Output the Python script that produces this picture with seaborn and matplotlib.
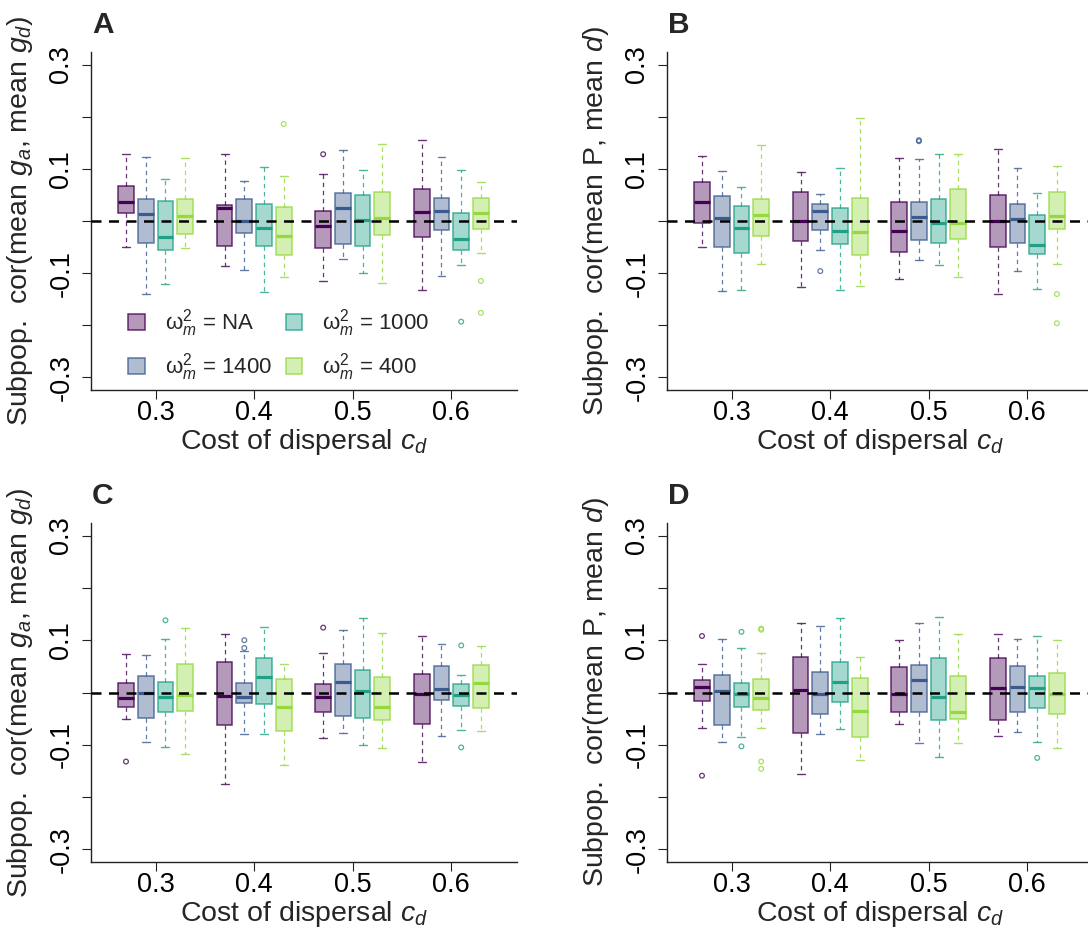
import numpy as np
import pandas as pd
import matplotlib
matplotlib.use("Agg")
import matplotlib.pyplot as plt
from matplotlib.colors import to_rgba
from matplotlib.patches import Patch
import seaborn as sns

# ---------------------------------------------------------------------------
# Data: five-number summaries per box, rows = cost of dispersal, cols = omega
# ---------------------------------------------------------------------------
costs = ["0.3", "0.4", "0.5", "0.6"]
omegas = ["NA", "1400", "1000", "400"]
omega_colors = ["#440154", "#3B5B8E", "#1FA187", "#95D840"]

# Panel A: cor(mean g_a, mean g_d)
A_lo = [[-0.049, -0.139, -0.121, -0.052], [-0.087, -0.094, -0.137, -0.108],
        [-0.115, -0.072, -0.099, -0.118], [-0.132, -0.106, -0.085, -0.061]]
A_q1 = [[0.015, -0.043, -0.056, -0.025], [-0.047, -0.023, -0.047, -0.065],
        [-0.052, -0.045, -0.048, -0.027], [-0.031, -0.018, -0.056, -0.015]]
A_med = [[0.036, 0.014, -0.031, 0.010], [0.024, 0.000, -0.013, -0.029],
         [-0.009, 0.024, 0.002, 0.006], [0.018, 0.020, -0.034, 0.015]]
A_q3 = [[0.068, 0.043, 0.038, 0.043], [0.030, 0.043, 0.032, 0.027],
        [0.019, 0.054, 0.049, 0.055], [0.061, 0.045, 0.015, 0.045]]
A_hi = [[0.128, 0.122, 0.080, 0.120], [0.128, 0.076, 0.104, 0.086],
        [0.090, 0.136, 0.097, 0.148], [0.155, 0.122, 0.097, 0.074]]
A_outliers = [("0.4", "400", 0.186), ("0.5", "NA", 0.128),
              ("0.6", "1000", -0.193), ("0.6", "400", -0.115), ("0.6", "400", -0.176)]

# Panel B: cor(mean P, mean d)
B_lo = [[-0.050, -0.135, -0.132, -0.082], [-0.126, -0.056, -0.132, -0.124],
        [-0.111, -0.075, -0.085, -0.108], [-0.139, -0.096, -0.131, -0.082]]
B_q1 = [[-0.003, -0.049, -0.061, -0.029], [-0.038, -0.018, -0.045, -0.065],
        [-0.059, -0.036, -0.043, -0.034], [-0.049, -0.043, -0.063, -0.015]]
B_med = [[0.036, 0.006, -0.014, 0.012], [0.000, 0.020, -0.020, -0.022],
         [-0.020, 0.008, -0.003, -0.003], [0.000, 0.003, -0.046, 0.010]]
B_q3 = [[0.074, 0.047, 0.029, 0.043], [0.055, 0.032, 0.025, 0.045],
        [0.036, 0.036, 0.043, 0.061], [0.049, 0.032, 0.011, 0.055]]
B_hi = [[0.124, 0.096, 0.066, 0.146], [0.094, 0.052, 0.101, 0.198],
        [0.120, 0.118, 0.128, 0.128], [0.138, 0.102, 0.054, 0.106]]
B_outliers = [("0.4", "1400", -0.096), ("0.5", "1400", 0.155), ("0.5", "1400", 0.153),
              ("0.6", "400", -0.140), ("0.6", "400", -0.196)]

# Panel C: cor(mean g_a, mean g_d)
C_lo = [[-0.050, -0.094, -0.105, -0.118], [-0.175, -0.080, -0.080, -0.139],
        [-0.087, -0.078, -0.101, -0.107], [-0.132, -0.083, -0.072, -0.074]]
C_q1 = [[-0.027, -0.049, -0.038, -0.035], [-0.063, -0.020, -0.022, -0.073],
        [-0.038, -0.045, -0.049, -0.053], [-0.061, -0.015, -0.025, -0.029]]
C_med = [[-0.010, 0.000, -0.008, -0.004], [-0.006, -0.008, 0.030, -0.027],
         [-0.008, 0.021, 0.002, -0.027], [-0.003, 0.006, -0.005, 0.019]]
C_q3 = [[0.019, 0.032, 0.021, 0.054], [0.059, 0.019, 0.066, 0.025],
        [0.017, 0.055, 0.043, 0.030], [0.036, 0.050, 0.017, 0.052]]
C_hi = [[0.074, 0.071, 0.102, 0.124], [0.112, 0.079, 0.125, 0.055],
        [0.076, 0.120, 0.143, 0.114], [0.108, 0.092, 0.034, 0.088]]
C_outliers = [("0.3", "NA", -0.132), ("0.3", "1000", 0.138), ("0.4", "1400", 0.100),
              ("0.4", "1400", 0.085), ("0.5", "NA", 0.124), ("0.6", "1000", 0.090),
              ("0.6", "1000", -0.105)]

# Panel D: cor(mean P, mean d)
D_lo = [[-0.067, -0.094, -0.085, -0.067], [-0.155, -0.080, -0.069, -0.129],
        [-0.061, -0.097, -0.123, -0.097], [-0.083, -0.075, -0.094, -0.107]]
D_q1 = [[-0.017, -0.063, -0.027, -0.033], [-0.078, -0.042, -0.018, -0.085],
        [-0.037, -0.037, -0.053, -0.051], [-0.053, -0.037, -0.029, -0.042]]
D_med = [[0.010, 0.002, -0.003, -0.010], [0.005, -0.002, 0.021, -0.036],
         [-0.003, 0.024, -0.008, -0.038], [0.008, 0.011, 0.008, -0.003]]
D_q3 = [[0.024, 0.034, 0.019, 0.025], [0.068, 0.039, 0.059, 0.027],
        [0.048, 0.052, 0.066, 0.032], [0.066, 0.050, 0.032, 0.038]]
D_hi = [[0.054, 0.102, 0.086, 0.076], [0.132, 0.128, 0.142, 0.068],
        [0.100, 0.132, 0.144, 0.112], [0.112, 0.102, 0.108, 0.100]]
D_outliers = [("0.3", "NA", 0.108), ("0.3", "NA", -0.159), ("0.3", "1000", 0.116),
              ("0.3", "1000", -0.103), ("0.3", "400", 0.122), ("0.3", "400", 0.120),
              ("0.3", "400", -0.132), ("0.3", "400", -0.146), ("0.6", "1000", -0.125)]

ylabel_g = r"Subpop.  cor(mean $g_a$, mean $g_d$)"
ylabel_p = r"Subpop.  cor(mean P, mean $d$)"
xlabel = r"Cost of dispersal $c_d$"

# ---------------------------------------------------------------------------
sns.set_style("ticks")
plt.rcParams["font.family"] = ["Liberation Sans", "DejaVu Sans"]
plt.rcParams["mathtext.fontset"] = "custom"
plt.rcParams["mathtext.rm"] = "Liberation Sans"
plt.rcParams["mathtext.it"] = "Liberation Sans:italic"
plt.rcParams["mathtext.bf"] = "Liberation Sans:bold"

palette = dict(zip(omegas, omega_colors))


def box_frame(lo, q1, med, q3, hi):
    """Five values per box: their linear quartiles are q1/med/q3, extremes lo/hi."""
    rows = []
    for i, c in enumerate(costs):
        for j, w in enumerate(omegas):
            for v in (lo[i][j], q1[i][j], med[i][j], q3[i][j], hi[i][j]):
                rows.append((c, w, v))
    return pd.DataFrame(rows, columns=["cost", "omega", "value"])


def outlier_frame(points):
    return pd.DataFrame(points, columns=["cost", "omega", "value"])


panels = [
    ("A", box_frame(A_lo, A_q1, A_med, A_q3, A_hi), outlier_frame(A_outliers), ylabel_g),
    ("B", box_frame(B_lo, B_q1, B_med, B_q3, B_hi), outlier_frame(B_outliers), ylabel_p),
    ("C", box_frame(C_lo, C_q1, C_med, C_q3, C_hi), outlier_frame(C_outliers), ylabel_g),
    ("D", box_frame(D_lo, D_q1, D_med, D_q3, D_hi), outlier_frame(D_outliers), ylabel_p),
]

W, H = 1088, 930
fig = plt.figure(figsize=(W / 100, H / 100), dpi=100)

# axes boxes in pixels: (left, top, width, height)
boxes_px = [(91, 52, 426, 338), (667, 52, 426, 338),
            (91, 523, 426, 339), (667, 523, 426, 339)]

edge_alpha = 0.8
fill_alpha = 0.4
ink = "#222222"

for (letter, df, out_df, ylab), (l, t, w, h) in zip(panels, boxes_px):
    ax = fig.add_axes([l / W, 1 - (t + h) / H, w / W, h / H])

    sns.boxplot(data=df, x="cost", y="value", hue="omega", order=costs,
                hue_order=omegas, palette=palette, whis=(0, 100), width=0.8,
                gap=0.2, saturation=1, linewidth=1.1, legend=False, ax=ax)

    for container, color in zip(ax.containers, omega_colors):
        for box in container.boxes:
            box.set_facecolor(to_rgba(color, fill_alpha))
            box.set_edgecolor(to_rgba(color, edge_alpha))
            box.set_linewidth(1.1)
        for med in container.medians:
            med.set_color(color)
            med.set_linewidth(2.3)
            med.set_solid_capstyle("butt")
        for wh in container.whiskers:
            wh.set_color(to_rgba(color, edge_alpha))
            wh.set_linewidth(0.9)
            wh.set_linestyle((0, (3.5, 3)))
        for cap in container.caps:
            cap.set_color(to_rgba(color, edge_alpha))
            cap.set_linewidth(1.0)

    n0 = len(ax.collections)
    sns.stripplot(data=out_df, x="cost", y="value", hue="omega", order=costs,
                  hue_order=omegas, palette=palette, dodge=True, jitter=False,
                  size=3.4, linewidth=0.9, legend=False, ax=ax)
    for coll in ax.collections[n0:]:
        fc = coll.get_facecolors()
        if len(fc):
            ec = fc.copy()
            ec[:, 3] = edge_alpha
            coll.set_facecolors("none")
            coll.set_edgecolors(ec)
            coll.set_linewidth(0.9)

    ax.axhline(0, color="black", lw=1.8, dashes=(4, 3), zorder=6)

    ax.set_xlim(-0.655, 3.666)
    ax.set_ylim(-0.324, 0.324)
    yt = np.round(np.arange(-0.3, 0.31, 0.1), 1)
    ax.set_yticks(yt)
    ax.set_yticklabels(["-0.3", "", "-0.1", "", "0.1", "", "0.3"])
    ax.set_xticks(range(len(costs)))
    ax.set_xticklabels(costs)

    ax.tick_params(axis="both", length=6.5, width=0.8, color=ink, labelcolor="black",
                   labelsize=19.5)
    ax.tick_params(axis="y", labelrotation=90, pad=5.5)
    ax.tick_params(axis="x", pad=1)
    for lbl in ax.get_yticklabels():
        lbl.set_va("center")

    sns.despine(ax=ax)
    for side in ("left", "bottom"):
        ax.spines[side].set_linewidth(1.0)
        ax.spines[side].set_color(ink)

    ax.set_ylabel(ylab, fontsize=20.5)
    ax.set_xlabel(xlabel, fontsize=20.5)
    ax.yaxis.set_label_coords(-0.132, 0.5)
    ax.xaxis.set_label_coords(0.5, -0.11)

    fig.text((l + 1) / W, 1 - (t - 19) / H, letter, fontsize=21.5,
             fontweight="bold", ha="left", va="baseline")

    if letter == "A":
        handles = [Patch(facecolor=to_rgba(c, fill_alpha), edgecolor=to_rgba(c, edge_alpha),
                         linewidth=1.1) for c in omega_colors]
        labels = [r"$\mathrm{\omega}_m^2$ = " + o for o in omegas]
        ax.legend(handles, labels, ncol=2, frameon=False, fontsize=16,
                  loc="center left", bbox_to_anchor=(0.088, 0.133),
                  borderaxespad=0, borderpad=0, handlelength=0.75, handleheight=0.75,
                  handletextpad=0.9, columnspacing=0.6, labelspacing=0.55)

fig.savefig("out.png", dpi=100)
